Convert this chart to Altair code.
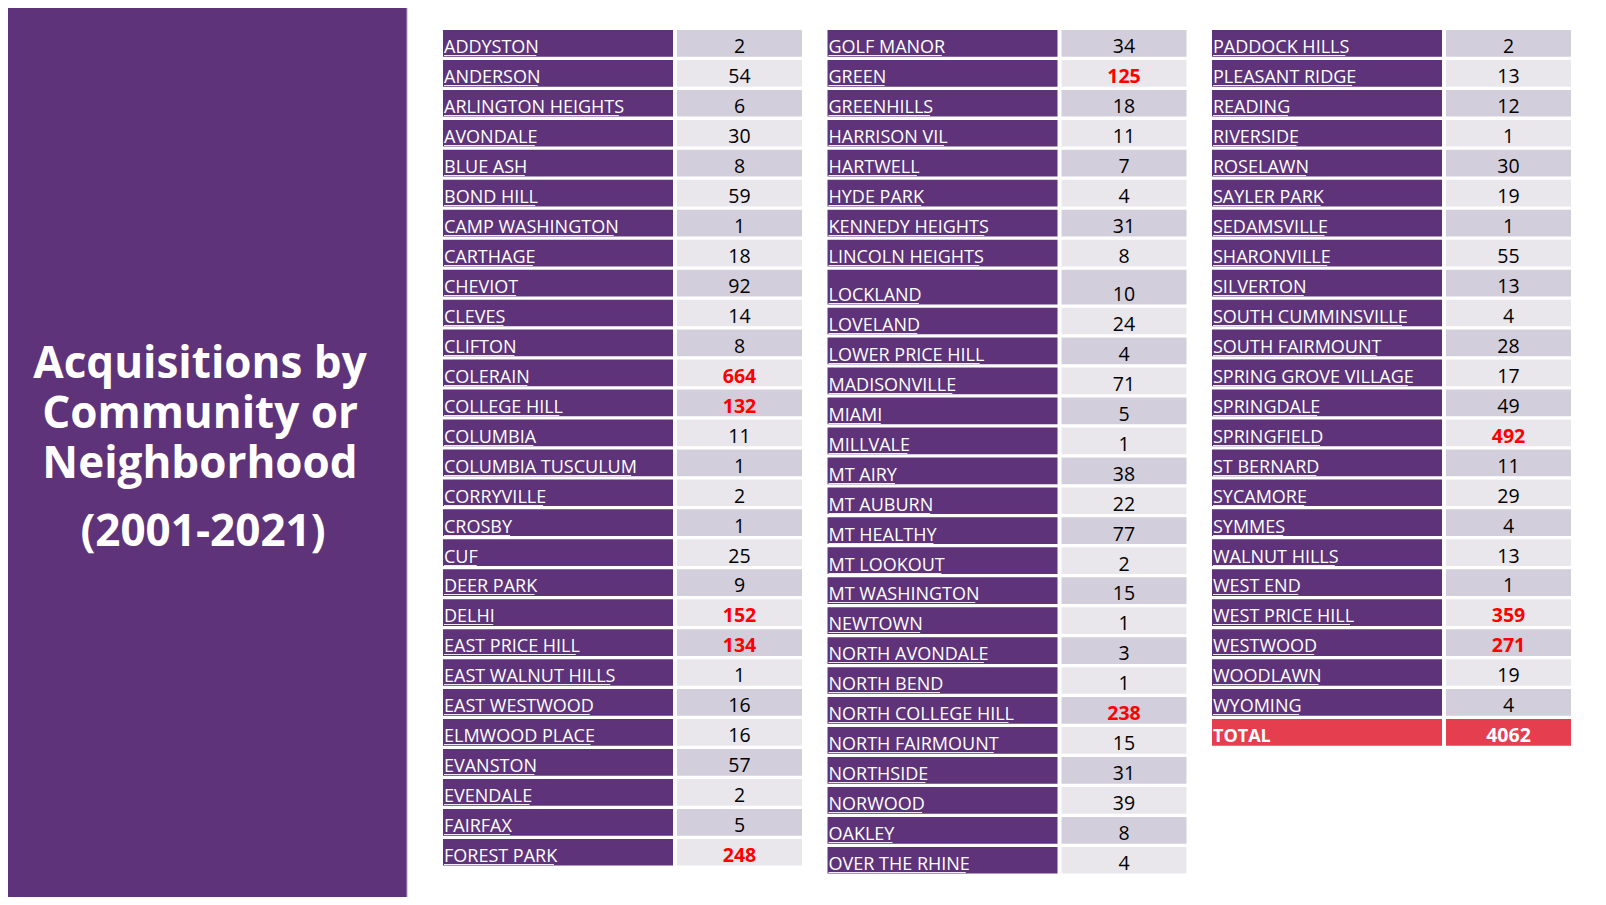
import altair as alt
import pandas as pd

# ---------------- data ----------------
col1_names = ["ADDYSTON", "ANDERSON", "ARLINGTON HEIGHTS", "AVONDALE", "BLUE ASH", "BOND HILL",
              "CAMP WASHINGTON", "CARTHAGE", "CHEVIOT", "CLEVES", "CLIFTON", "COLERAIN",
              "COLLEGE HILL", "COLUMBIA", "COLUMBIA TUSCULUM", "CORRYVILLE", "CROSBY", "CUF",
              "DEER PARK", "DELHI", "EAST PRICE HILL", "EAST WALNUT HILLS", "EAST WESTWOOD",
              "ELMWOOD PLACE", "EVANSTON", "EVENDALE", "FAIRFAX", "FOREST PARK"]
col1_values = [2, 54, 6, 30, 8, 59, 1, 18, 92, 14, 8, 664, 132, 11, 1, 2, 1, 25, 9, 152, 134,
               1, 16, 16, 57, 2, 5, 248]

col2_names = ["GOLF MANOR", "GREEN", "GREENHILLS", "HARRISON VIL", "HARTWELL", "HYDE PARK",
              "KENNEDY HEIGHTS", "LINCOLN HEIGHTS", "LOCKLAND", "LOVELAND", "LOWER PRICE HILL",
              "MADISONVILLE", "MIAMI", "MILLVALE", "MT AIRY", "MT AUBURN", "MT HEALTHY",
              "MT LOOKOUT", "MT WASHINGTON", "NEWTOWN", "NORTH AVONDALE", "NORTH BEND",
              "NORTH COLLEGE HILL", "NORTH FAIRMOUNT", "NORTHSIDE", "NORWOOD", "OAKLEY",
              "OVER THE RHINE"]
col2_values = [34, 125, 18, 11, 7, 4, 31, 8, 10, 24, 4, 71, 5, 1, 38, 22, 77, 2, 15, 1, 3, 1,
               238, 15, 31, 39, 8, 4]

col3_names = ["PADDOCK HILLS", "PLEASANT RIDGE", "READING", "RIVERSIDE", "ROSELAWN",
              "SAYLER PARK", "SEDAMSVILLE", "SHARONVILLE", "SILVERTON", "SOUTH CUMMINSVILLE",
              "SOUTH FAIRMOUNT", "SPRING GROVE VILLAGE", "SPRINGDALE", "SPRINGFIELD",
              "ST BERNARD", "SYCAMORE", "SYMMES", "WALNUT HILLS", "WEST END", "WEST PRICE HILL",
              "WESTWOOD", "WOODLAWN", "WYOMING"]
col3_values = [2, 13, 12, 1, 30, 19, 1, 55, 13, 4, 28, 17, 49, 492, 11, 29, 4, 13, 1, 359, 271,
               19, 4]

total_label = "TOTAL"
total_value = 4062

title_lines = ["Acquisitions by", "Community or", "Neighborhood", "(2001-2021)"]

# ---------------- styles / layout ----------------
PURPLE = "#5E3379"
CELL_DARK = "#D3CEDB"
CELL_LIGHT = "#E9E7EC"
TOTAL_RED = "#E43E4F"
HIGHLIGHT = "#FF0000"
FONT = "Open Sans"
FS_NAME = 18
FS_VAL = 19.5

W, H = 1590, 889
COL_X0 = 443
COL_PITCH = 384.5
NAME_W = 230
VAL_GAP = 234
VAL_W = 125
ROW_Y0 = 30
ROW_PITCH = 29.96
ROW_H = 26.7
TALL_COL, TALL_ROW, TALL_EXTRA = 1, 8, 8

# approximate Open Sans advance widths (em) for the underline length
CW = {"A": .633, "B": .648, "C": .631, "D": .729, "E": .556, "F": .516, "G": .728, "H": .738,
      "I": .279, "J": .267, "K": .614, "L": .519, "M": .903, "N": .754, "O": .779, "P": .602,
      "Q": .779, "R": .618, "S": .549, "T": .553, "U": .728, "V": .595, "W": .926, "X": .577,
      "Y": .56, "Z": .571, " ": .26}

columns = [(col1_names, col1_values), (col2_names, col2_values),
           (col3_names + [total_label], col3_values + [total_value])]

recs = []
for c, (names, vals) in enumerate(columns):
    for r, (n, v) in enumerate(zip(names, vals)):
        top = ROW_Y0 + ROW_PITCH * r + (TALL_EXTRA if (c == TALL_COL and r > TALL_ROW) else 0)
        bottom = top + ROW_H + (TALL_EXTRA if (c == TALL_COL and r == TALL_ROW) else 0)
        x0 = COL_X0 + COL_PITCH * c
        is_total = n == total_label
        if is_total:
            kind = "total"
        elif v > 100:
            kind = "high"
        else:
            kind = "normal"
        recs.append(dict(
            name=n, value=str(v), kind=kind,
            nx0=x0, nx1=x0 + NAME_W, vx0=x0 + VAL_GAP, vx1=x0 + VAL_GAP + VAL_W,
            vxc=x0 + VAL_GAP + VAL_W / 2, tx=x0 + 1,
            ux1=x0 + 1 + 0.97 * sum(CW.get(ch, .6) for ch in n) * FS_NAME,
            y0=top, y1=bottom, ty=bottom - 3.5, uy=round(bottom - 1.5) + 0.5,
            nfill=TOTAL_RED if is_total else PURPLE,
            vfill=TOTAL_RED if is_total else (CELL_DARK if r % 2 == 0 else CELL_LIGHT),
        ))
df = pd.DataFrame(recs)

xs = alt.Scale(domain=[8, 8 + W], range=[0, W])
ys = alt.Scale(domain=[8, 8 + H], reverse=True)


def X(f):
    return alt.X(f, type="quantitative", scale=xs, axis=None)


def Y(f):
    return alt.Y(f, type="quantitative", scale=ys, axis=None)


panel_df = pd.DataFrame([{"x0": 8, "x1": 407, "y0": 8, "y1": 8 + H}])
panel = alt.Chart(panel_df).mark_rect(color=PURPLE).encode(
    x=X("x0"), x2="x1", y=Y("y0"), y2="y1")
edge = alt.Chart(panel_df).mark_rule(color="#B7A3C9", strokeWidth=1).encode(
    x=X("x1"), y=Y("y0"), y2="y1")

name_cells = alt.Chart(df).mark_rect().encode(
    x=X("nx0"), x2="nx1", y=Y("y0"), y2="y1", color=alt.Color("nfill:N", scale=None))
val_cells = alt.Chart(df).mark_rect().encode(
    x=X("vx0"), x2="vx1", y=Y("y0"), y2="y1", color=alt.Color("vfill:N", scale=None))

name_text = alt.Chart(df).transform_filter("datum.kind != 'total'").mark_text(
    align="left", baseline="alphabetic", font=FONT, fontSize=FS_NAME, color="white").encode(
    x=X("tx"), y=Y("ty"), text="name:N")
underline = alt.Chart(df).transform_filter("datum.kind != 'total'").mark_rule(
    color="white", strokeWidth=1, opacity=0.9).encode(x=X("tx"), x2="ux1", y=Y("uy"))
total_name = alt.Chart(df).transform_filter("datum.kind == 'total'").mark_text(
    align="left", baseline="alphabetic", font=FONT, fontSize=FS_NAME, fontWeight="bold",
    color="white").encode(x=X("tx"), y=Y("ty"), text="name:N")

val_text = alt.Chart(df).transform_filter("datum.kind == 'normal'").mark_text(
    align="center", baseline="alphabetic", font=FONT, fontSize=FS_VAL, color="black").encode(
    x=X("vxc"), y=Y("ty"), text="value:N")
val_high = alt.Chart(df).transform_filter("datum.kind == 'high'").mark_text(
    align="center", baseline="alphabetic", font=FONT, fontSize=FS_VAL, fontWeight="bold",
    color=HIGHLIGHT).encode(x=X("vxc"), y=Y("ty"), text="value:N")
val_total = alt.Chart(df).transform_filter("datum.kind == 'total'").mark_text(
    align="center", baseline="alphabetic", font=FONT, fontSize=FS_VAL, fontWeight="bold",
    color="white").encode(x=X("vxc"), y=Y("ty"), text="value:N")

title_df = pd.DataFrame({"line": title_lines, "tx": [200, 200, 200, 203],
                         "ty": [378, 428, 478, 546]})
title = alt.Chart(title_df).mark_text(
    align="center", baseline="alphabetic", font=FONT, fontSize=44, fontWeight="bold",
    color="white").encode(x=X("tx"), y=Y("ty"), text="line:N")

chart = alt.layer(panel, edge, name_cells, val_cells, name_text, underline, total_name,
                  val_text, val_high, val_total, title).properties(
    width=W, height=H, padding=0, autosize=alt.AutoSizeParams(type="none"),
    background="white"
).configure_view(stroke=None)

chart.save("out.html", embed_options={"renderer": "svg", "actions": False})
